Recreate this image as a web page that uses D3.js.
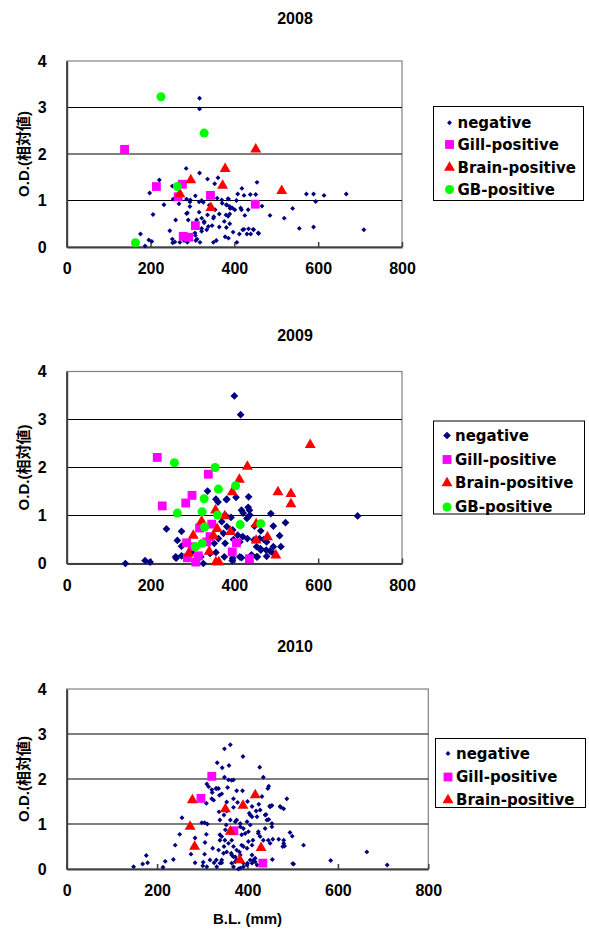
<!DOCTYPE html>
<html>
<head>
<meta charset="utf-8">
<script src="https://cdn.jsdelivr.net/npm/d3@7"></script>
<style>
  body { margin: 0; background: #fff; }
  text { font-family: "Liberation Sans", Arial, "Noto Sans CJK JP", sans-serif; font-weight: bold; fill: #000; }
  .legend text { font-family: "DejaVu Sans", sans-serif; font-size: 15px; }
</style>
</head>
<body>
<div id="chart"></div>
<script>
// Data (B.L. in mm, O.D. relative value)
const xTicks = [0, 200, 400, 600, 800]
const yTicks = [0, 1, 2, 3, 4]
const years = ['2008', '2009', '2010']
const seriesNames = ['negative', 'Gill-positive', 'Brain-positive', 'GB-positive']
const seriesColors = ['#000080', '#ff00ff', '#ff0000', '#00ff00']
const yTitle = 'O.D.(相対値)'
const xTitle = 'B.L. (mm)'

const neg2008 = [[317,3.2],[317,2.97],[285,1.69],[317,1.59],[221,1.44],[336,1.46],[361,1.49],[353,1.36],[252,1.31],[418,1.26],[454,1.39],[198,1.16],[408,1.14],[423,1.11],[438,1.13],[451,1.13],[572,1.14],[589,1.14],[614,1.11],[667,1.14],[594,0.98],[232,0.91],[307,1.1],[295,1.01],[322,1.0],[326,0.96],[359,1.05],[371,0.94],[381,0.91],[389,0.87],[385,1.04],[405,1.0],[395,0.84],[401,0.8],[417,0.8],[466,0.88],[539,0.83],[206,0.7],[288,0.73],[316,0.75],[268,0.93],[260,0.58],[322,0.62],[328,0.55],[389,0.71],[385,0.66],[376,0.55],[425,0.68],[485,0.68],[519,0.62],[389,0.5],[381,0.42],[364,0.43],[347,0.46],[334,0.37],[322,0.34],[306,0.3],[246,0.35],[397,0.32],[420,0.37],[434,0.39],[446,0.37],[412,0.28],[430,0.28],[439,0.28],[457,0.3],[555,0.4],[589,0.43],[709,0.37],[176,0.28],[196,0.15],[203,0.12],[187,0.02],[252,0.17],[258,0.11],[253,0.09],[270,0.1],[280,0.14],[308,0.14],[318,0.1],[350,0.1],[357,0.14],[386,0.19],[406,0.1],[307,0.25],[254,1.03],[286,1.03],[294,0.97],[316,0.97],[370,1.01],[386,1.03],[382,0.9],[390,0.83],[415,0.84],[433,0.8],[340,0.9],[354,0.8],[351,0.65],[336,0.69],[286,0.72],[294,0.87],[364,0.71],[380,0.69],[308,0.47],[322,0.4],[338,0.44],[290,0.58],[310,0.58],[328,0.52],[350,0.62],[288,0.1],[296,0.17],[311,0.17],[378,0.22],[423,0.38],[445,0.38],[458,0.29]]
const gill2008 = [[138,2.1],[214,1.3],[276,1.35],[266,1.08],[343,1.11],[450,0.92],[307,0.46],[278,0.23],[291,0.21]]
const brain2008 = [[451,2.1],[378,1.68],[296,1.44],[372,1.32],[270,1.14],[513,1.21],[344,0.84]]
const gb2008 = [[225,3.23],[328,2.45],[264,1.3],[164,0.09]]

const neg2009 = [[400,3.49],[415,3.1],[140,0],[187,0.06],[199,0.03],[336,1.51],[434,1.39],[361,1.28],[381,1.33],[404,1.38],[417,1.11],[433,1.17],[487,1.04],[522,0.85],[493,0.78],[508,0.58],[238,0.72],[274,0.67],[264,0.48],[274,0.36],[261,0.11],[326,0],[395,0.06],[417,0.12],[455,0.14],[462,0.31],[485,0.26],[493,0.35],[470,0.5],[694,0.99],[356,1.34],[382,1.34],[436,1.11],[448,0.78],[463,0.68],[378,1.01],[392,0.96],[370,0.87],[382,0.77],[396,0.7],[408,0.59],[374,0.63],[362,0.52],[352,0.42],[378,0.42],[398,0.5],[420,0.56],[413,0.45],[431,0.52],[447,0.49],[460,0.52],[477,0.45],[511,0.35],[476,0.28],[463,0.28],[453,0.35],[260,0.14],[274,0.16],[298,0.23],[320,0.14],[342,0.21],[356,0.23],[376,0.14],[396,0.11],[413,0.14],[441,0.18],[453,0.14],[477,0.15],[493,0.21],[437,1.01],[430,0.94],[421,1.05]]
const gill2009 = [[216,2.21],[338,1.86],[299,1.42],[284,1.26],[228,1.2],[346,0.82],[317,0.74],[342,0.56],[286,0.43],[334,0.45],[405,0.43],[395,0.24],[288,0.12],[308,0.03],[314,0.16],[436,0.1],[300,0.35]]
const brain2009 = [[581,2.47],[431,2.02],[412,1.75],[395,1.49],[504,1.49],[535,1.45],[535,1.24],[355,1.11],[377,0.99],[322,0.88],[359,0.72],[350,0.58],[391,0.66],[302,0.58],[452,0.48],[479,0.55],[499,0.17],[291,0.21],[340,0.25],[356,0.03],[363,0.03],[452,0.82]]
const gb2009 = [[257,2.1],[354,2.0],[362,1.55],[403,1.62],[328,1.35],[323,1.08],[264,1.05],[360,1.01],[329,0.76],[414,0.81],[463,0.83],[323,0.42],[307,0.35]]

const neg2010 = [[362,2.76],[349,2.67],[390,2.5],[333,2.36],[359,2.3],[344,2.25],[427,2.26],[435,2.04],[349,2.04],[358,1.98],[369,1.98],[310,1.89],[314,1.83],[330,1.79],[336,1.79],[356,1.81],[376,1.74],[389,1.74],[322,1.7],[321,1.56],[343,1.67],[447,1.84],[445,1.79],[432,1.61],[487,1.56],[472,1.39],[480,1.34],[309,1.46],[337,1.27],[354,1.49],[369,1.56],[400,1.5],[410,1.39],[425,1.44],[449,1.4],[454,1.41],[419,1.29],[428,1.31],[404,1.24],[410,1.16],[441,1.21],[447,1.1],[454,1.01],[255,1.14],[305,1.03],[311,1.0],[250,0.77],[309,0.77],[353,0.98],[376,1.09],[384,1.01],[399,1.05],[406,0.98],[391,0.9],[387,0.76],[402,0.83],[424,0.79],[428,0.72],[284,0.69],[343,0.72],[350,0.64],[358,0.57],[365,0.64],[369,0.5],[376,0.42],[387,0.53],[399,0.46],[412,0.64],[410,0.53],[469,0.66],[480,0.57],[478,0.5],[494,0.81],[499,0.73],[524,0.53],[240,0.53],[306,0.59],[323,0.46],[275,0.33],[305,0.33],[336,0.42],[347,0.35],[364,0.35],[369,0.27],[384,0.31],[410,0.31],[413,0.2],[455,0.21],[236,0.21],[176,0.3],[179,0.14],[168,0.11],[148,0.05],[218,0.17],[213,0.04],[284,0.14],[301,0.07],[310,0.05],[317,0.2],[326,0.14],[332,0.05],[343,0.14],[365,0.13],[373,0.16],[380,0.0],[399,0.09],[410,0.13],[417,0.16],[421,0.09],[500,0.12],[584,0.19],[664,0.38],[709,0.09],[365,1.97],[321,1.76],[325,1.53],[332,1.79],[338,1.64],[474,1.37],[299,1.03],[283,0.5],[302,0.15],[339,1.09],[348,1.2],[354,1.29],[369,1.37],[378,1.48],[406,1.2],[421,1.16],[439,1.2],[450,1.38],[443,1.09],[454,0.94],[439,0.9],[339,0.64],[348,0.5],[354,0.38],[365,0.31],[373,0.27],[382,0.38],[391,0.5],[402,0.61],[395,0.79],[384,0.94],[373,1.05],[362,1.09],[351,0.87],[339,0.76],[331,0.2],[339,0.13],[343,0.2],[376,0.2],[391,0.13],[400,0.13],[406,0.2],[417,0.24],[424,0.83],[435,0.64],[446,0.64],[450,0.57],[456,0.66],[480,0.64],[482,0.51],[369,0.05],[384,0.02],[391,0.05],[502,0.11]]
const gill2010 = [[321,2.06],[297,1.57],[370,0.85],[434,0.13]]
const brain2010 = [[278,1.53],[417,1.64],[351,1.33],[390,1.41],[273,0.94],[362,0.83],[283,0.5],[430,0.47],[383,0.2]]

// Layout of the three panels
const panels = [
    { title: years[0], series: [neg2008, gill2008, brain2008, gb2008], left: 66.7, right: 402, top: 61, bottom: 247, titleY: 18,
      negArea: 12, legend: { x: 433.5, y: 106.5, w: 150, h: 94, rows: [122.7, 144.5, 167.5, 189.5], mx: 449.5 } },
    { title: years[1], series: [neg2009, gill2009, brain2009, gb2009], left: 66.7, right: 402, top: 371.5, bottom: 563.5, titleY: 335,
      negArea: 30, legend: { x: 433.5, y: 421, w: 151, h: 93, rows: [435.5, 459.5, 483, 507], mx: 447 } },
    { title: years[2], series: [neg2010, gill2010, brain2010], left: 66.7, right: 428.3, top: 689, bottom: 869, titleY: 646,
      negArea: 12, legend: { x: 435.5, y: 738.5, w: 150, h: 69, rows: [753.5, 777, 800], mx: 448 }, xTitle: true }
]

const svg = d3.select('#chart')
    .append('svg')
    .attr('width', 589)
    .attr('height', 929)
svg.append('rect').attr('width', 589).attr('height', 929).attr('fill', '#fff')

// marker shape per series
function marker(i, negArea) {
    if (i === 0) return { path: d3.symbol(d3.symbolSquare, negArea)(), rot: 45 }
    if (i === 1) return { path: d3.symbol(d3.symbolSquare, 78)(), rot: 0 }
    if (i === 2) return { path: d3.symbol(d3.symbolTriangle, 52)(), rot: 0 }
    return { path: d3.symbol(d3.symbolCircle, 64)(), rot: 0 }
}

panels.forEach(p => {
    const xScale = d3.scaleLinear().domain([0, 800]).range([p.left, p.right])
    const yScale = d3.scaleLinear().domain([0, 4]).range([p.bottom, p.top])
    const g = svg.append('g')

    // title
    g.append('text')
        .attr('x', 295).attr('y', p.titleY)
        .attr('text-anchor', 'middle').attr('dominant-baseline', 'central')
        .style('font-size', '16px')
        .text(p.title)

    // frame
    g.append('rect')
        .attr('x', p.left).attr('y', p.top)
        .attr('width', p.right - p.left).attr('height', p.bottom - p.top)
        .attr('fill', 'none').attr('stroke', '#808080').attr('stroke-width', 1.2)

    // gridlines
    g.selectAll('.grid')
        .data(yTicks.filter(d => d > 0 && d < 4))
        .join('line')
        .attr('x1', p.left).attr('x2', p.right)
        .attr('y1', d => yScale(d)).attr('y2', d => yScale(d))
        .attr('stroke', '#000').attr('stroke-width', 1.2)

    // axes
    const xAxis = d3.axisBottom(xScale).tickValues(xTicks).tickSizeInner(-5).tickSizeOuter(0).tickPadding(16)
    const xg = g.append('g').attr('transform', `translate(0,${p.bottom})`).call(xAxis)
    xg.attr('font-family', null).attr('font-size', null)
    xg.select('.domain').attr('stroke', '#404040').attr('stroke-width', 2)
    xg.selectAll('.tick line').attr('stroke', '#404040').attr('stroke-width', 1.5)
    xg.selectAll('text').style('font-size', '16px').attr('fill', '#000')

    const yAxis = d3.axisLeft(yScale).tickValues(yTicks).tickFormat(d3.format('d')).tickSize(0).tickPadding(20)
    const yg = g.append('g').attr('transform', `translate(${p.left},0)`).call(yAxis)
    yg.attr('font-family', null).attr('font-size', null)
    yg.select('.domain').attr('stroke', '#404040').attr('stroke-width', 2)
    yg.selectAll('text').style('font-size', '16px').attr('fill', '#000')

    g.append('text')
        .attr('transform', `translate(23,${(p.top + p.bottom) / 2}) rotate(-90)`)
        .attr('text-anchor', 'middle').attr('dominant-baseline', 'central')
        .style('font-size', '15px')
        .text(yTitle)

    if (p.xTitle) {
        g.append('text')
            .attr('x', (p.left + p.right) / 2).attr('y', p.bottom + 49)
            .attr('text-anchor', 'middle').attr('dominant-baseline', 'central')
            .style('font-size', '15px')
            .text(xTitle)
    }

    // points
    p.series.forEach((data, i) => {
        const m = marker(i, p.negArea)
        g.append('g').selectAll('path')
            .data(data)
            .join('path')
            .attr('d', m.path)
            .attr('transform', d => `translate(${xScale(d[0])},${yScale(d[1])}) rotate(${m.rot})`)
            .attr('fill', seriesColors[i])
    })

    // legend
    const lg = g.append('g').attr('class', 'legend')
    lg.append('rect')
        .attr('x', p.legend.x).attr('y', p.legend.y)
        .attr('width', p.legend.w).attr('height', p.legend.h)
        .attr('fill', '#fff').attr('stroke', '#000').attr('stroke-width', 1)
    p.series.forEach((data, i) => {
        const m = marker(i, p.negArea)
        const ry = p.legend.rows[i]
        lg.append('path')
            .attr('d', m.path)
            .attr('transform', `translate(${p.legend.mx},${ry}) rotate(${m.rot})`)
            .attr('fill', seriesColors[i])
        lg.append('text')
            .attr('x', p.legend.mx + 8).attr('y', ry)
            .attr('dominant-baseline', 'central')
            .text(seriesNames[i])
    })
})
</script>
</body>
</html>
